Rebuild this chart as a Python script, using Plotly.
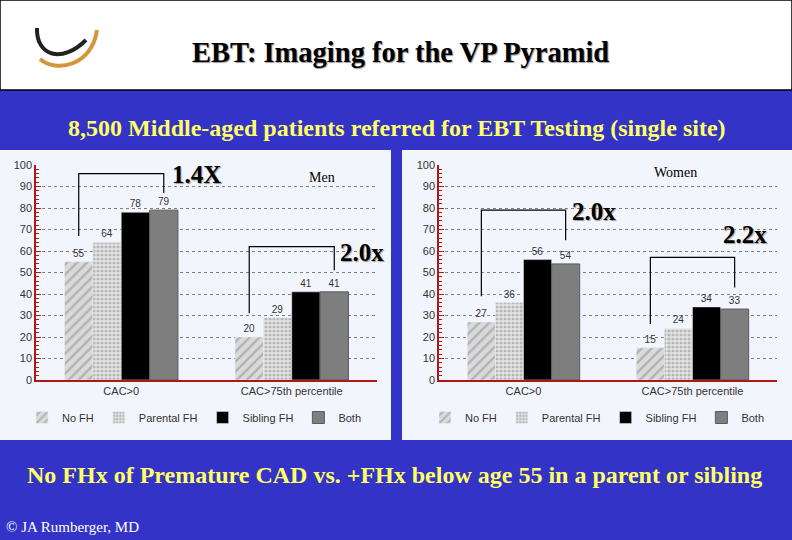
import plotly.graph_objects as go

# data
groups = ["CAC>0", "CAC>75th percentile"]
series = ["No FH", "Parental FH", "Sibling FH", "Both"]
men = {
    "No FH": [55, 20],
    "Parental FH": [64, 29],
    "Sibling FH": [78, 41],
    "Both": [79, 41],
}
women = {
    "No FH": [27, 15],
    "Parental FH": [36, 24],
    "Sibling FH": [56, 34],
    "Both": [54, 33],
}
# bracket levels: (left foot, top, right foot) per group
men_brackets = [(67, 96, 87), (31, 62, 51)]
women_brackets = [(39, 79, 65), (26, 57, 43)]
men_ratios = ["1.4X", "2.0x"]
women_ratios = ["2.0x", "2.2x"]

BLUE = "#3333c8"
PANEL = "#f3f5fc"
YELLOW = "#ffff66"
AXRED = "#b01818"
BARGAP = 0.335
W, H = 792, 540


def px(x):
    return x / W


def py(y):
    return 1 - y / H


styles = {
    "No FH": dict(color="#d4d4d4", pattern=dict(shape="/", fgcolor="#8c8c8c", bgcolor="#dadada", size=7, solidity=0.35)),
    "Parental FH": dict(color="#d0d0d0", pattern=dict(shape=".", fgcolor="#8a8a8a", bgcolor="#e4e4e4", size=4, solidity=0.5)),
    "Sibling FH": dict(color="#000000"),
    "Both": dict(color="#7e7e7e", line=dict(color="#5a5a5a", width=1)),
}

fig = go.Figure()

for panel, data, legend in [(1, men, "legend"), (2, women, "legend2")]:
    xa = "x" if panel == 1 else "x2"
    ya = "y" if panel == 1 else "y2"
    for s in series:
        fig.add_trace(go.Bar(
            x=list(range(len(groups))), y=data[s], name=s,
            marker=styles[s], xaxis=xa, yaxis=ya, legend=legend,
            text=[str(v) for v in data[s]], textposition="outside",
            textfont=dict(family="Arial", size=10, color="#333333"),
            cliponaxis=False,
        ))

# brackets from the No FH bar centre to the Both bar centre
bar_w = (1 - BARGAP) / len(series)
off = 1.5 * bar_w
for xa, ya, brs in [("x", "y", men_brackets), ("x2", "y2", women_brackets)]:
    for gi, (lo, top, hi) in enumerate(brs):
        fig.add_trace(go.Scatter(
            x=[gi - off, gi - off, gi + off, gi + off], y=[lo, top, top, hi],
            mode="lines", line=dict(color="black", width=1.2),
            xaxis=xa, yaxis=ya, showlegend=False, hoverinfo="skip",
        ))

shadow = "1px 1px 1px #9a9a9a"
ann = []
for xr, yr, pos, texts in [("x", "y", [(0.44, 95.5), (1.41, 59.5)], men_ratios),
                           ("x2", "y2", [(0.42, 78.5), (1.31, 67.5)], women_ratios)]:
    for (ax_, ay_), t in zip(pos, texts):
        ann.append(dict(x=ax_, y=ay_, xref=xr, yref=yr, text=t, showarrow=False,
                        font=dict(family="Liberation Serif", size=25, color="black", weight="bold", shadow=shadow)))
ann.append(dict(x=1.18, y=94, xref="x", yref="y", text="Men", showarrow=False,
                font=dict(family="Liberation Serif", size=14, color="black")))
ann.append(dict(x=0.9, y=96.7, xref="x2", yref="y2", text="Women", showarrow=False,
                font=dict(family="Liberation Serif", size=14, color="black")))
ann.append(dict(x=px(400), y=py(52), xref="paper", yref="paper", xanchor="center", yanchor="middle",
                text="EBT: Imaging for the VP Pyramid", showarrow=False,
                font=dict(family="Liberation Serif", size=28.5, color="black", weight="bold", shadow=shadow)))
ann.append(dict(x=px(397), y=py(128), xref="paper", yref="paper", xanchor="center", yanchor="middle",
                text="8,500 Middle-aged patients referred for EBT Testing (single site)", showarrow=False,
                font=dict(family="Liberation Serif", size=24, color=YELLOW, weight="bold")))
ann.append(dict(x=px(394), y=py(475), xref="paper", yref="paper", xanchor="center", yanchor="middle",
                text="No FHx of Premature CAD vs. +FHx below age 55 in a parent or sibling", showarrow=False,
                font=dict(family="Liberation Serif", size=24, color=YELLOW, weight="bold")))
ann.append(dict(x=px(4), y=py(527), xref="paper", yref="paper", xanchor="left", yanchor="middle",
                text="© JA Rumberger, MD", showarrow=False,
                font=dict(family="Liberation Serif", size=15, color="white")))

shapes = [
    # white header band
    dict(type="rect", xref="paper", yref="paper", x0=0, x1=1, y0=py(90), y1=1,
         fillcolor="white", line=dict(color="black", width=1.5), layer="below"),
    # chart panels
    dict(type="rect", xref="paper", yref="paper", x0=0, x1=px(391), y0=py(440), y1=py(150),
         fillcolor=PANEL, line=dict(width=0), layer="below"),
    dict(type="rect", xref="paper", yref="paper", x0=px(402), x1=1, y0=py(440), y1=py(150),
         fillcolor=PANEL, line=dict(width=0), layer="below"),
    # logo swooshes
    dict(type="path", xref="paper", yref="paper",
         path=f"M {px(37)} {py(28)} C {px(36)} {py(56)} {px(62)} {py(64)} {px(86)} {py(40)}",
         line=dict(color="#222222", width=4)),
    dict(type="path", xref="paper", yref="paper",
         path=f"M {px(40)} {py(59)} C {px(56)} {py(73)} {px(92)} {py(66)} {px(97)} {py(30)}",
         line=dict(color="#d5953a", width=4)),
]

yax = dict(range=[0, 100], dtick=10, showline=True, linecolor=AXRED, linewidth=1.5,
           ticks="inside", ticklen=5, tickcolor=AXRED,
           minor=dict(dtick=2, ticks="inside", ticklen=3, tickcolor=AXRED),
           showgrid=True, gridcolor="#808080", griddash="dot", gridwidth=1,
           tickfont=dict(family="Arial", size=11, color="#333333"), zeroline=False, fixedrange=True)
xax = dict(range=[-0.5, 1.5], tickvals=list(range(len(groups))), ticktext=groups,
           showline=True, linecolor=AXRED, linewidth=1.5, ticks="", showgrid=False, zeroline=False,
           tickfont=dict(family="Arial", size=11, color="#333333"))

legfont = dict(family="Arial", size=11, color="#333333")
fig.update_layout(
    width=W, height=H, margin=dict(l=0, r=0, t=0, b=0, autoexpand=False),
    paper_bgcolor=BLUE, plot_bgcolor=PANEL,
    barmode="group", bargap=BARGAP, bargroupgap=0,
    xaxis=dict(xax, domain=[px(36), px(377)], anchor="y"),
    yaxis=dict(yax, domain=[py(380), py(165)], anchor="x"),
    xaxis2=dict(xax, domain=[px(439), px(777)], anchor="y2"),
    yaxis2=dict(yax, domain=[py(380), py(165)], anchor="x2"),
    legend=dict(orientation="h", x=px(22), y=py(403), xanchor="left", yanchor="top",
                font=legfont, bgcolor="rgba(0,0,0,0)", itemwidth=30, tracegroupgap=0),
    legend2=dict(orientation="h", x=px(425), y=py(403), xanchor="left", yanchor="top",
                 font=legfont, bgcolor="rgba(0,0,0,0)", itemwidth=30, tracegroupgap=0),
    annotations=ann, shapes=shapes, showlegend=True,
)

fig.write_html("out.html", config={"displayModeBar": False},
               post_script="document.body.style.margin='0';")
